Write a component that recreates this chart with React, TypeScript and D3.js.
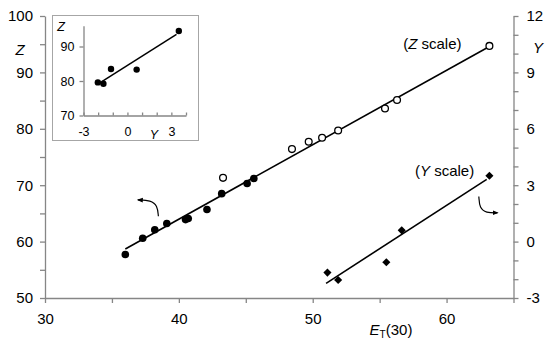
import React, { useEffect, useRef } from 'react'
import * as d3 from 'd3'

// main panel: Z (left axis) and Y (right axis) vs ET(30)
const E_FILLED = [36.0, 37.3, 38.2, 39.1, 40.5, 40.7, 42.1, 43.2, 45.1, 45.6]
const Z_FILLED = [57.7, 60.6, 62.1, 63.2, 63.9, 64.1, 65.7, 68.5, 70.3, 71.2]

const E_OPEN = [43.3, 48.45, 49.7, 50.7, 51.9, 55.4, 56.3, 63.2]
const Z_OPEN = [71.3, 76.4, 77.7, 78.4, 79.7, 83.6, 85.1, 94.7]

const E_DIAMOND = [51.1, 51.9, 55.5, 56.65, 63.2]
const Y_DIAMOND = [-1.65, -2.04, -1.1, 0.6, 3.5]

// fitted lines [x0, x1], [y0, y1]
const Z_FIT_E = [36.0, 63.2]
const Z_FIT_Z = [58.7, 94.6]
const Y_FIT_E = [51.0, 63.0]
const Y_FIT_Y = [-2.22, 3.31]

// inset: Z vs Y
const INSET_Y = [-2.02, -1.64, -1.12, 0.63, 3.51]
const INSET_Z = [79.6, 79.2, 83.5, 83.3, 94.5]
const INSET_FIT_Y = [-1.75, 3.35]
const INSET_FIT_Z = [79.8, 93.5]

const X_TICKS = [30, 35, 40, 45, 50, 55, 60, 65]
const Z_TICKS = [50, 55, 60, 65, 70, 75, 80, 85, 90, 95, 100]
const Y_TICKS = d3.range(-3, 13, 1)
const INSET_X_TICKS = [-3, -2, -1, 0, 1, 2, 3, 4]
const INSET_Z_TICKS = [70, 80, 90]

// annotation arrows in data units (E, Z)
const LEFT_ARROW = [[38.47, 64.5], [38.4, 66.4], [37.9, 67.3], [36.95, 67.4]]
const RIGHT_ARROW = [[62.41, 68.0], [62.47, 65.9], [62.95, 65.1], [63.8, 65.1]]

const FONT = '"Liberation Sans", Arial, sans-serif'
const AXIS = '#868686'

const W = 550
const H = 343

export default function App() {
  const ref = useRef<SVGSVGElement>(null)

  useEffect(() => {
    const svg = d3.select(ref.current)
    svg.selectAll('*').remove()

    const x = d3.scaleLinear().domain([30, 65]).range([45, 513.5])
    const z = d3.scaleLinear().domain([50, 100]).range([298, 16])
    const y = d3.scaleLinear().domain([-3, 12]).range([298, 16])

    const styleAxis = (g: any) => {
      g.select('.domain').attr('stroke', AXIS).attr('stroke-width', 1.3)
      g.selectAll('.tick line').attr('stroke', AXIS).attr('stroke-width', 1.3)
      g.selectAll('.tick text').attr('fill', '#000')
    }

    svg
      .append('g')
      .attr('transform', 'translate(0,298)')
      .call(
        d3
          .axisBottom(x)
          .tickValues(X_TICKS)
          .tickSize(5)
          .tickSizeOuter(0)
          .tickPadding(10)
          .tickFormat(d => (+d % 10 === 0 && +d < 65 ? String(d) : ''))
      )
      .style('font', `15px ${FONT}`)
      .call(styleAxis)

    svg
      .append('g')
      .attr('transform', 'translate(45,0)')
      .call(
        d3
          .axisLeft(z)
          .tickValues(Z_TICKS)
          .tickSize(5)
          .tickSizeOuter(0)
          .tickPadding(7)
          .tickFormat(d => (+d % 10 === 0 ? String(d) : ''))
      )
      .style('font', `15px ${FONT}`)
      .call(styleAxis)

    svg
      .append('g')
      .attr('transform', 'translate(513.5,0)')
      .call(
        d3
          .axisRight(y)
          .tickValues(Y_TICKS)
          .tickSize(5)
          .tickSizeOuter(0)
          .tickPadding(8)
          .tickFormat(d => (+d % 3 === 0 ? String(d) : ''))
      )
      .style('font', `15px ${FONT}`)
      .call(styleAxis)

    // fitted lines
    const line = d3.line<number[]>().x(d => d[0]).y(d => d[1])
    svg
      .append('path')
      .attr('d', line(Z_FIT_E.map((e, i) => [x(e), z(Z_FIT_Z[i])])))
      .attr('stroke', '#000')
      .attr('stroke-width', 1.6)
      .attr('fill', 'none')
    svg
      .append('path')
      .attr('d', line(Y_FIT_E.map((e, i) => [x(e), y(Y_FIT_Y[i])])))
      .attr('stroke', '#000')
      .attr('stroke-width', 1.6)
      .attr('fill', 'none')

    // points
    svg
      .append('g')
      .selectAll('circle')
      .data(E_FILLED)
      .join('circle')
      .attr('cx', d => x(d))
      .attr('cy', (d, i) => z(Z_FILLED[i]))
      .attr('r', 3.8)
      .attr('fill', '#000')

    svg
      .append('g')
      .selectAll('circle')
      .data(E_OPEN)
      .join('circle')
      .attr('cx', d => x(d))
      .attr('cy', (d, i) => z(Z_OPEN[i]))
      .attr('r', 3.4)
      .attr('fill', '#fff')
      .attr('stroke', '#000')
      .attr('stroke-width', 1.3)

    const diamond = d3.symbol().type(d3.symbolDiamond2).size(42)
    svg
      .append('g')
      .selectAll('path')
      .data(E_DIAMOND)
      .join('path')
      .attr('d', diamond)
      .attr('transform', (d, i) => `translate(${x(d)},${y(Y_DIAMOND[i])})`)
      .attr('fill', '#000')

    // arrows
    svg
      .append('defs')
      .append('marker')
      .attr('id', 'ah')
      .attr('viewBox', '0 0 10 10')
      .attr('refX', 8)
      .attr('refY', 5)
      .attr('markerWidth', 5)
      .attr('markerHeight', 5)
      .attr('orient', 'auto')
      .append('path')
      .attr('d', 'M0,1L10,5L0,9Z')
      .attr('fill', '#000')

    const curve = d3
      .line<number[]>()
      .x(d => x(d[0]))
      .y(d => z(d[1]))
      .curve(d3.curveBasis)
    ;[LEFT_ARROW, RIGHT_ARROW].forEach(a => {
      svg
        .append('path')
        .attr('d', curve(a))
        .attr('fill', 'none')
        .attr('stroke', '#000')
        .attr('stroke-width', 1.2)
        .attr('marker-end', 'url(#ah)')
    })

    // labels
    const text = (tx: number, ty: number, size: number, anchor = 'middle') =>
      svg
        .append('text')
        .attr('x', tx)
        .attr('y', ty)
        .attr('text-anchor', anchor)
        .style('font', `${size}px ${FONT}`)
        .attr('fill', '#000')

    text(20, 55, 15).style('font-style', 'italic').text('Z')
    text(538, 53, 15).style('font-style', 'italic').text('Y')

    const zs = text(x(58.94), z(94.1), 15)
    zs.append('tspan').text('(')
    zs.append('tspan').style('font-style', 'italic').text('Z')
    zs.append('tspan').text(' scale)')

    const ys = text(x(59.85), z(71.6), 15)
    ys.append('tspan').text('(')
    ys.append('tspan').style('font-style', 'italic').text('Y')
    ys.append('tspan').text(' scale)')

    const et = text(391, 335, 15)
    et.append('tspan').style('font-style', 'italic').text('E')
    et.append('tspan').attr('dy', 3).style('font-size', '10px').text('T')
    et.append('tspan').attr('dy', -3).text('(30)')

    // inset
    const inset = svg.append('g')
    inset
      .append('rect')
      .attr('x', 52.5)
      .attr('y', 15.5)
      .attr('width', 146)
      .attr('height', 125)
      .attr('fill', '#fff')
      .attr('stroke', '#a6a6a6')
      .attr('stroke-width', 1)

    const ix = d3.scaleLinear().domain([-3, 4]).range([83.5, 186])
    const iz = d3.scaleLinear().domain([70, 96]).range([115.5, 25.8])

    inset
      .append('g')
      .attr('transform', 'translate(0,115.5)')
      .call(
        d3
          .axisBottom(ix)
          .tickValues(INSET_X_TICKS)
          .tickSize(-3)
          .tickSizeOuter(0)
          .tickPadding(12)
          .tickFormat(d => (+d % 3 === 0 && +d < 4 ? String(d) : ''))
      )
      .style('font', `12.5px ${FONT}`)
      .call(styleAxis)

    inset
      .append('g')
      .attr('transform', 'translate(83.5,0)')
      .call(
        d3
          .axisLeft(iz)
          .tickValues(INSET_Z_TICKS)
          .tickSize(4)
          .tickSizeOuter(0)
          .tickPadding(5)
      )
      .style('font', `12.5px ${FONT}`)
      .call(styleAxis)

    inset
      .append('path')
      .attr('d', line(INSET_FIT_Y.map((v, i) => [ix(v), iz(INSET_FIT_Z[i])])))
      .attr('stroke', '#000')
      .attr('stroke-width', 1.5)
      .attr('fill', 'none')

    inset
      .append('g')
      .selectAll('circle')
      .data(INSET_Y)
      .join('circle')
      .attr('cx', d => ix(d))
      .attr('cy', (d, i) => iz(INSET_Z[i]))
      .attr('r', 3.2)
      .attr('fill', '#000')

    text(61, 31, 12.5).style('font-style', 'italic').text('Z')
    text(154, 139, 12.5).style('font-style', 'italic').text('Y')
  }, [])

  return <svg ref={ref} width={W} height={H} style={{ display: 'block', position: 'absolute', left: 0, top: 0 }} />
}
